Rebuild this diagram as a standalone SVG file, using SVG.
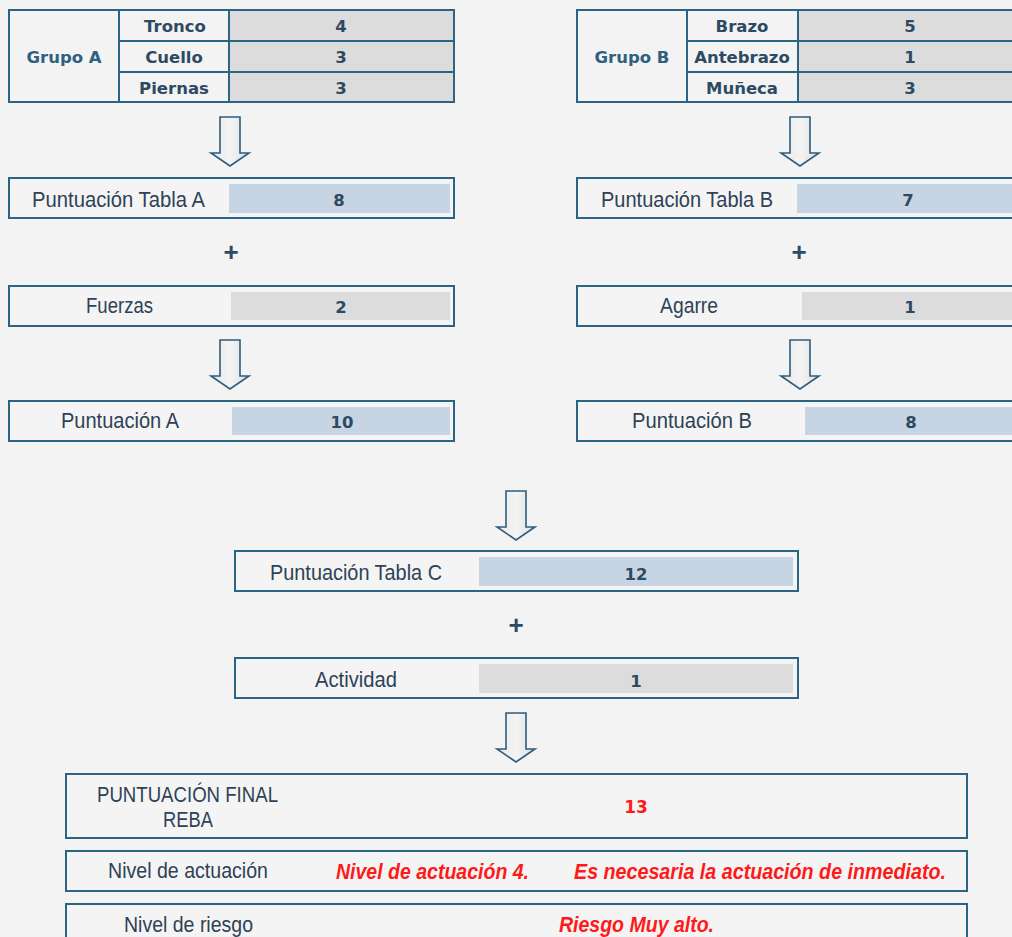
<svg xmlns="http://www.w3.org/2000/svg" width="1012" height="937" viewBox="0 0 1012 937">
  <defs>
    <style>
      .box { fill: #f4f4f4; stroke: #2c6583; stroke-width: 2; }
      .rule { stroke: #2c6583; stroke-width: 2; }
      .grey { fill: #dcdcdc; }
      .blue { fill: #c6d4e3; }
      .lbl { font-family: "Liberation Sans", Arial, sans-serif; font-size: 22px; fill: #2e4257; text-anchor: middle; }
      .tb { font-family: "DejaVu Sans", Verdana, sans-serif; font-weight: bold; font-size: 16.5px; fill: #2e4a63; text-anchor: middle; }
      .grp { font-family: "DejaVu Sans", Verdana, sans-serif; font-weight: bold; font-size: 16.5px; fill: #2f6080; text-anchor: middle; }
      .num { font-family: "DejaVu Sans", Verdana, sans-serif; font-weight: bold; font-size: 16.5px; fill: #2e4a63; text-anchor: middle; }
      .plus { font-family: "Liberation Sans", sans-serif; font-weight: bold; font-size: 26px; fill: #2e4a63; text-anchor: middle; }
      .red { font-family: "DejaVu Sans", Verdana, sans-serif; font-weight: bold; font-size: 17px; fill: #ff1a1a; text-anchor: middle; }
      .redi { font-family: "Liberation Sans", Arial, sans-serif; font-weight: bold; font-style: italic; font-size: 22px; fill: #ff1a1a; text-anchor: middle; }
      .arrow { fill: url(#arrowFill); stroke: #2f5d7c; stroke-width: 1.6; stroke-linejoin: miter; }
    </style>
    <linearGradient id="arrowFill" x1="0" y1="0" x2="1" y2="0">
      <stop offset="0" stop-color="#e6e6e6"/>
      <stop offset="0.5" stop-color="#f4f4f4"/>
      <stop offset="1" stop-color="#dedede"/>
    </linearGradient>
    <!-- hollow block arrow, centred on x=0, top at y=0 -->
    <path id="downArrow" class="arrow" d="M-10,0 H10 V36 H19 L0,49 L-19,36 H-10 Z"/>
  </defs>

  <rect width="1012" height="937" fill="#f3f3f3"/>

  <!-- Grupo A table -->
  <g id="grupo-a">
    <rect class="grey" x="229" y="10" width="225" height="92"/>
    <rect x="9" y="10" width="445" height="92" fill="none" class="rule"/>
    <line class="rule" x1="119" y1="10" x2="119" y2="102"/>
    <line class="rule" x1="229" y1="10" x2="229" y2="102"/>
    <line class="rule" x1="119" y1="41" x2="454" y2="41"/>
    <line class="rule" x1="119" y1="72" x2="454" y2="72"/>
    <text class="grp" x="64" y="63">Grupo A</text>
    <text class="tb" x="175" y="32">Tronco</text>
    <text class="tb" x="174" y="63">Cuello</text>
    <text class="tb" x="174" y="94">Piernas</text>
    <text class="num" x="341" y="32">4</text>
    <text class="num" x="341" y="63">3</text>
    <text class="num" x="341" y="94">3</text>
  </g>

  <!-- Grupo B table -->
  <g id="grupo-b">
    <rect class="grey" x="798" y="10" width="216" height="92"/>
    <rect x="577" y="10" width="440" height="92" fill="none" class="rule"/>
    <line class="rule" x1="687" y1="10" x2="687" y2="102"/>
    <line class="rule" x1="798" y1="10" x2="798" y2="102"/>
    <line class="rule" x1="687" y1="41" x2="1014" y2="41"/>
    <line class="rule" x1="687" y1="72" x2="1014" y2="72"/>
    <text class="grp" x="632" y="63">Grupo B</text>
    <text class="tb" x="742" y="32">Brazo</text>
    <text class="tb" x="742" y="63">Antebrazo</text>
    <text class="tb" x="742" y="94">Muñeca</text>
    <text class="num" x="910" y="32">5</text>
    <text class="num" x="910" y="63">1</text>
    <text class="num" x="910" y="94">3</text>
  </g>

  <!-- connectors: block arrows and plus signs -->
  <g id="connectors">
    <use href="#downArrow" x="230" y="117"/>
    <use href="#downArrow" x="230" y="340"/>
    <use href="#downArrow" x="800" y="117"/>
    <use href="#downArrow" x="800" y="340"/>
    <use href="#downArrow" x="516" y="491"/>
    <use href="#downArrow" x="516" y="713"/>
    <text class="plus" x="231" y="261">+</text>
    <text class="plus" x="799" y="261">+</text>
    <text class="plus" x="516" y="634">+</text>
  </g>

  <!-- left column -->
  <g id="tabla-a">
    <rect class="box" x="9" y="178" width="445" height="40"/>
    <rect class="blue" x="229" y="184" width="221" height="29"/>
    <text class="lbl" x="118.5" y="207" textLength="173" lengthAdjust="spacingAndGlyphs">Puntuación Tabla A</text>
    <text class="num" x="339" y="206">8</text>
  </g>
  <g id="fuerzas">
    <rect class="box" x="9" y="286" width="445" height="40"/>
    <rect class="grey" x="231" y="292" width="219" height="28"/>
    <text class="lbl" x="119.5" y="313" textLength="67" lengthAdjust="spacingAndGlyphs">Fuerzas</text>
    <text class="num" x="341" y="313">2</text>
  </g>
  <g id="puntuacion-a">
    <rect class="box" x="9" y="401" width="445" height="40"/>
    <rect class="blue" x="232" y="407" width="218" height="28"/>
    <text class="lbl" x="120" y="428" textLength="118" lengthAdjust="spacingAndGlyphs">Puntuación A</text>
    <text class="num" x="342" y="428">10</text>
  </g>

  <!-- right column -->
  <g id="tabla-b">
    <rect class="box" x="577" y="178" width="440" height="40"/>
    <rect class="blue" x="797" y="184" width="217" height="29"/>
    <text class="lbl" x="687" y="207" textLength="172" lengthAdjust="spacingAndGlyphs">Puntuación Tabla B</text>
    <text class="num" x="908" y="206">7</text>
  </g>
  <g id="agarre">
    <rect class="box" x="577" y="286" width="440" height="40"/>
    <rect class="grey" x="802" y="292" width="212" height="28"/>
    <text class="lbl" x="689" y="313" textLength="58" lengthAdjust="spacingAndGlyphs">Agarre</text>
    <text class="num" x="910" y="313">1</text>
  </g>
  <g id="puntuacion-b">
    <rect class="box" x="577" y="401" width="440" height="40"/>
    <rect class="blue" x="805" y="407" width="209" height="28"/>
    <text class="lbl" x="692" y="428" textLength="120" lengthAdjust="spacingAndGlyphs">Puntuación B</text>
    <text class="num" x="911" y="428">8</text>
  </g>

  <!-- combined -->
  <g id="tabla-c">
    <rect class="box" x="235" y="551" width="563" height="40"/>
    <rect class="blue" x="479" y="557" width="314" height="29"/>
    <text class="lbl" x="356" y="580" textLength="172" lengthAdjust="spacingAndGlyphs">Puntuación Tabla C</text>
    <text class="num" x="636" y="580">12</text>
  </g>
  <g id="actividad">
    <rect class="box" x="235" y="658" width="563" height="40"/>
    <rect class="grey" x="479" y="664" width="314" height="29"/>
    <text class="lbl" x="356" y="687" textLength="82" lengthAdjust="spacingAndGlyphs">Actividad</text>
    <text class="num" x="636" y="687">1</text>
  </g>

  <!-- results -->
  <g id="puntuacion-final">
    <rect class="box" x="66" y="774" width="901" height="64"/>
    <text class="lbl" x="187.5" y="802" textLength="181" lengthAdjust="spacingAndGlyphs">PUNTUACIÓN FINAL</text>
    <text class="lbl" x="188" y="827" textLength="50" lengthAdjust="spacingAndGlyphs">REBA</text>
    <text class="red" x="636" y="813">13</text>
  </g>
  <g id="nivel-actuacion">
    <rect class="box" x="66" y="851" width="901" height="40"/>
    <text class="lbl" x="188" y="878" textLength="160" lengthAdjust="spacingAndGlyphs">Nivel de actuación</text>
    <text class="redi" x="432.5" y="879" textLength="193" lengthAdjust="spacingAndGlyphs">Nivel de actuación 4.</text>
    <text class="redi" x="760" y="879" textLength="372" lengthAdjust="spacingAndGlyphs">Es necesaria la actuación de inmediato.</text>
  </g>
  <g id="nivel-riesgo">
    <rect class="box" x="66" y="904" width="901" height="40"/>
    <text class="lbl" x="188.5" y="932" textLength="129" lengthAdjust="spacingAndGlyphs">Nivel de riesgo</text>
    <text class="redi" x="636.5" y="932" textLength="155" lengthAdjust="spacingAndGlyphs">Riesgo Muy alto.</text>
  </g>
</svg>
